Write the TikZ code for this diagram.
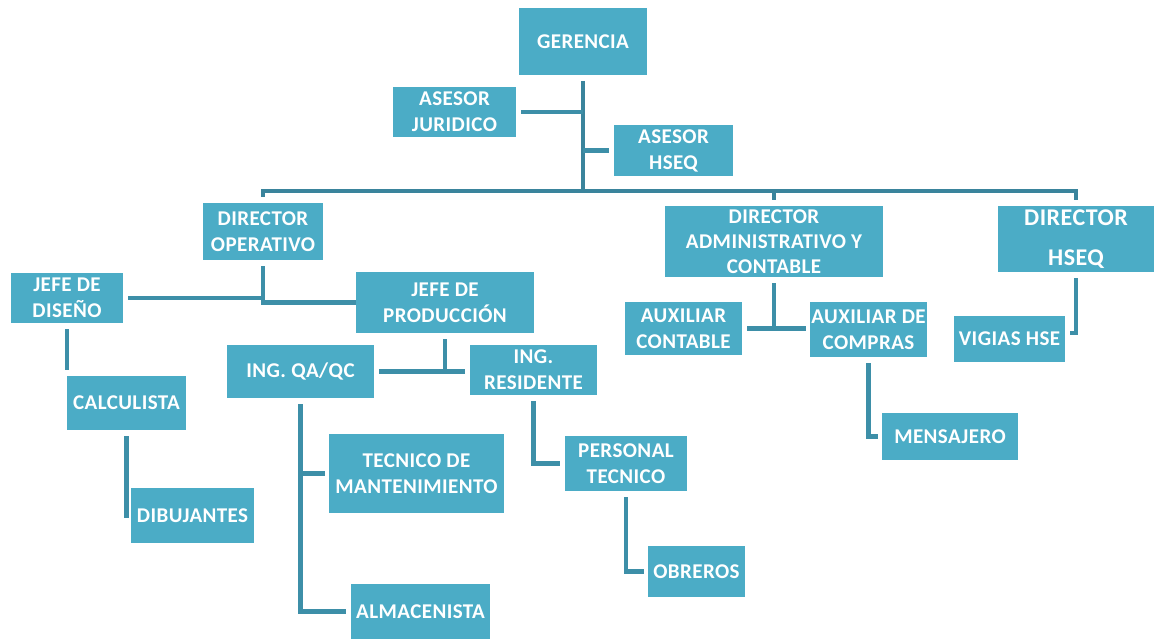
\documentclass[tikz,border=0pt]{standalone}
\usepackage{fontspec}
\setmainfont{Carlito}[LetterSpace=2]
\begin{document}
\begin{tikzpicture}[x=1pt,y=-1pt,
  box/.style={fill=boxfill,text=white,inner sep=0pt,outer sep=0pt,align=center,
    font=\bfseries\fontsize{21}{26}\selectfont},
  conn/.style={draw=linecol,line width=4.5pt},
  gapa/.style={shorten <=6pt},
  gapb/.style={shorten >=5pt}]
\definecolor{boxfill}{HTML}{4BACC6}
\definecolor{linecol}{HTML}{3D8FA8}
\definecolor{barcol}{HTML}{3A849C}
\useasboundingbox (0,0) rectangle (1154,639);

% positions
\node[box,minimum width=128pt,minimum height=67pt] (ger) at (583,41.5) {GERENCIA};
\node[box,minimum width=123pt,minimum height=50pt] (jur) at (454.5,112) {ASESOR\\JURIDICO};
\node[box,minimum width=119pt,minimum height=51pt] (ahs) at (673.5,150.5) {ASESOR\\HSEQ};
\node[box,minimum width=120pt,minimum height=57pt] (dop) at (263,231.5) {DIRECTOR\\OPERATIVO};
\node[box,minimum width=218pt,minimum height=71pt,font=\bfseries\fontsize{21}{25}\selectfont] (dad) at (774,241.5) {DIRECTOR\\ADMINISTRATIVO Y\\CONTABLE};
\node[box,minimum width=156pt,minimum height=66pt,font=\bfseries\fontsize{24}{40}\selectfont] (dhs) at (1076,239) {DIRECTOR\\HSEQ};
\node[box,minimum width=112pt,minimum height=50pt] (jdi) at (67,298) {JEFE DE\\DISEÑO};
\node[box,minimum width=178pt,minimum height=61pt] (jpr) at (445,302.5) {JEFE DE\\PRODUCCIÓN};
\node[box,minimum width=147pt,minimum height=53pt] (qa) at (300.5,371.5) {ING. QA/QC};
\node[box,minimum width=127pt,minimum height=50pt] (res) at (533.5,370) {ING.\\RESIDENTE};
\node[box,minimum width=117pt,minimum height=53pt] (aco) at (683.5,328.5) {AUXILIAR\\CONTABLE};
\node[box,minimum width=117pt,minimum height=55pt] (acm) at (868.5,329.5) {AUXILIAR DE\\COMPRAS};
\node[box,minimum width=111pt,minimum height=46pt] (vig) at (1009.5,339) {VIGIAS HSE};
\node[box,minimum width=119pt,minimum height=54pt] (cal) at (126.5,403) {CALCULISTA};
\node[box,minimum width=175pt,minimum height=79pt] (tec) at (416.5,473.5) {TECNICO DE\\MANTENIMIENTO};
\node[box,minimum width=122pt,minimum height=55pt] (per) at (626,463.5) {PERSONAL\\TECNICO};
\node[box,minimum width=136pt,minimum height=47pt] (men) at (950,436.5) {MENSAJERO};
\node[box,minimum width=123pt,minimum height=55pt] (dib) at (192.5,515.5) {DIBUJANTES};
\node[box,minimum width=97pt,minimum height=51pt] (obr) at (696.5,571.5) {OBREROS};
\node[box,minimum width=139pt,minimum height=55pt] (alm) at (420.5,611.5) {ALMACENISTA};

% main horizontal bar under the management
\coordinate (bar) at (582,191);
\draw[conn,draw=barcol,gapa] (ger.south) -- (ger.south |- bar);
\draw[conn,draw=barcol] ([yshift=6pt]dop.north) -- (dop.north |- bar) -- (dhs.north |- bar) -- ([yshift=6pt]dhs.north);
\draw[conn,draw=barcol] ([yshift=6pt]dad.north) -- (dad.north |- bar);

% advisers
\draw[conn,shorten <=5pt] (jur.east) -- (ger.south |- jur.east);
\draw[conn,gapb] (ger.south |- ahs.west) -- (ahs.west);

% operations branch
\draw[conn,gapa] (dop.south) -- (dop.south |- jpr.west) -- (jpr.west);
\draw[conn,shorten <=5pt] (jdi.east) -- (dop.south |- jdi.east);
\draw[conn,gapa,shorten >=6pt] (jdi.south) -- (jdi.south |- cal.north);
\draw[conn,gapa,shorten >=2pt] (cal.south) |- (dib.west);
\draw[conn,gapa] (jpr.south) -- (jpr.south |- qa.east);
\draw[conn,shorten <=5pt,gapb] (qa.east) -- (res.west |- qa.east);
\draw[conn,gapa,gapb] (qa.south) |- (alm.west);
\draw[conn,shorten >=4pt] (qa.south |- tec.west) -- (tec.west);
\draw[conn,gapa,gapb] (res.south) |- (per.west);
\draw[conn,gapa,shorten >=4pt] (per.south) |- (obr.west);

% administration branch
\draw[conn,gapa] (dad.south) -- (dad.south |- aco.east);
\draw[conn,shorten <=5pt,shorten >=4pt] (aco.east) -- (acm.west |- aco.east);
\draw[conn,gapa,shorten >=4pt] (acm.south) |- (men.west);

% HSEQ branch
\draw[conn,gapa,gapb] (dhs.south) |- ([yshift=6pt]vig.east);
\end{tikzpicture}
\end{document}
